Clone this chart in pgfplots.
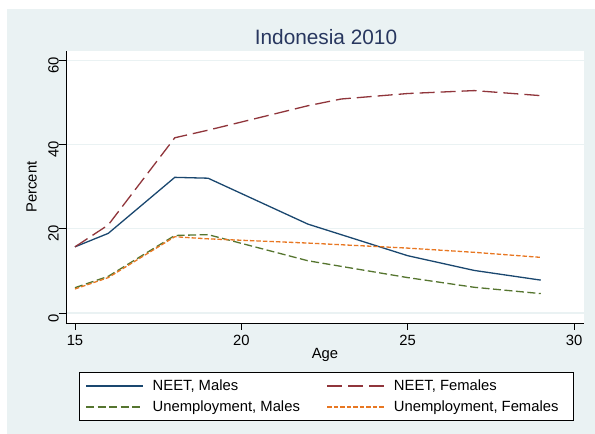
\documentclass[border=0pt]{standalone}
\usepackage{fontspec}
\setmainfont{Liberation Sans}
\usepackage{pgfplots}
\pgfplotsset{compat=1.18}
\definecolor{stnavy}{RGB}{26,71,111}
\definecolor{stmaroon}{RGB}{144,53,59}
\definecolor{stgreen}{RGB}{85,117,47}
\definecolor{storange}{RGB}{232,119,34}
\definecolor{stbg}{RGB}{234,242,243}
\definecolor{sttitle}{RGB}{40,55,95}
\begin{document}
\begin{tikzpicture}[x=1pt,y=1pt]
\useasboundingbox (0,0) rectangle (595,434);
\fill[white] (0,0) rectangle (595,434);
\fill[stbg] (7,0) rectangle (595,425);
\node[anchor=base, text=sttitle, font=\fontsize{20.8}{25}\selectfont, inner sep=0pt] at (326,389) {Indonesia 2010};
\begin{axis}[
  at={(66pt,111pt)}, anchor=south west,
  scale only axis, width=518pt, height=272pt,
  xmin=14.73, xmax=30.3, ymin=-2.38, ymax=62.2,
  axis lines*=left, axis line style={-, black, line width=0.9pt},
  xtick={15,20,25,30}, ytick={0,20,40,60},
  tick align=outside, major tick length=7pt, tick style={black, line width=0.9pt},
  ymajorgrids, grid style={stbg, line width=1.4pt},
  axis background/.style={fill=white},
  /pgf/number format/assume math mode=true,
  tick label style={font=\fontsize{14.8}{17}\selectfont},
  xticklabel style={anchor=north, inner sep=0pt, yshift=-5pt},
  yticklabel style={rotate=90, anchor=south, inner sep=0pt, xshift=-5pt},
  xlabel={Age}, ylabel={Percent},
  label style={font=\fontsize{14.8}{17}\selectfont},
  xlabel style={at={(axis description cs:0.5,-0.1287)}, anchor=base, inner sep=0pt},
  ylabel style={at={(axis description cs:-0.0666,0.5)}, anchor=center, inner sep=0pt},
  legend columns=2,
  legend style={at={(0.0251,-0.1801)}, anchor=north west, draw=black, line width=0.8pt, fill=white,
    inner xsep=6pt, inner ysep=7pt,
    nodes={inner sep=0pt, text height=11.5pt, text depth=1.5pt, font=\fontsize{14.8}{17}\selectfont},
    row sep=8pt, cells={anchor=center},
    /tikz/every odd column/.style={column sep=9pt},
    /tikz/every even column/.style={column sep=0pt}},
  legend image code/.code={\draw[#1] (0pt,0pt) -- (57pt,0pt);},
]
\addplot[stnavy, line width=1.3pt] coordinates {(15,15.7)(16,18.9)(18,32.2)(19,32.0)(22,21.1)(25,13.6)(27,10.1)(29,7.8)};
\addlegendentry{\makebox[174pt][l]{NEET, Males}}
\addplot[stmaroon, line width=1.3pt, dash pattern=on 15pt off 6pt] coordinates {(15,15.7)(16,20.9)(18,41.6)(19,43.4)(22,49.2)(23,50.8)(25,52.1)(27,52.8)(29,51.6)};
\addlegendentry{\makebox[173pt][l]{NEET, Females}}
\addplot[stgreen, line width=1.3pt, dash pattern=on 8pt off 3.5pt] coordinates {(15,6.0)(16,8.7)(18,18.4)(19,18.6)(22,12.4)(25,8.4)(27,6.1)(29,4.6)};
\addlegendentry{\makebox[174pt][l]{Unemployment, Males}}
\addplot[storange, line width=1.3pt, dash pattern=on 4.5pt off 2pt] coordinates {(15,5.7)(16,8.4)(18,18.1)(19,17.6)(22,16.6)(25,15.4)(27,14.4)(29,13.2)};
\addlegendentry{\makebox[173pt][l]{Unemployment, Females}}
\end{axis}
\end{tikzpicture}
\end{document}
